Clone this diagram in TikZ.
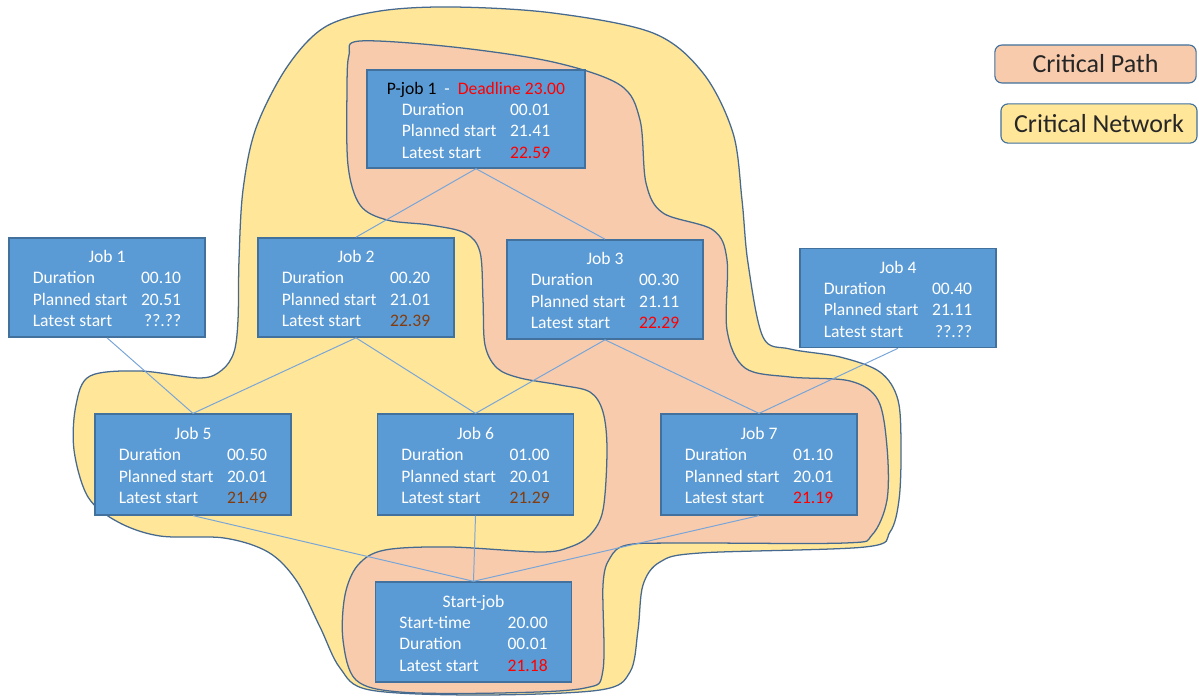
\documentclass[tikz,border=0pt]{standalone}
\usepackage{fontspec}
\setmainfont{Carlito}
\usepackage{xcolor}
\definecolor{JobBlue}{RGB}{91,155,213}
\definecolor{JobEdge}{RGB}{65,113,156}
\definecolor{PathPeach}{RGB}{248,203,173}
\definecolor{NetYellow}{RGB}{255,230,153}
\definecolor{BlobEdge}{RGB}{70,105,143}
\definecolor{LinkBlue}{RGB}{120,165,215}
\definecolor{LateRed}{RGB}{255,0,0}
\definecolor{LateBrown}{RGB}{132,60,12}
\usepackage{tikz}
\usetikzlibrary{positioning}

\begin{document}
\begin{tikzpicture}[
		x=0.025cm, y=-0.025cm,
		% job box
		jobBox/.style={
			rectangle,
			minimum width=4.9cm,
			minimum height=2.48cm,
			fill=JobBlue,
			draw=JobEdge,
			line width=1pt,
			text=white,
			inner sep=0pt,
			font=\fontsize{12.5}{15.2}\selectfont
		},
		% legend box
		legendBox/.style={
			rectangle,
			rounded corners=5pt,
			draw=JobEdge,
			line width=0.8pt,
			text=black!85,
			inner sep=0pt,
			font=\fontsize{18.5}{22}\selectfont
		},
		% blob outline
		blob/.style={draw=BlobEdge, line width=0.9pt},
		% connector
		link/.style={draw=LinkBlue, line width=0.7pt}
		]
		
		\useasboundingbox (0,0) rectangle (1199,696);
		
		% critical network
		\path[blob, fill=NetYellow] plot[smooth cycle, tension=0.55] coordinates {
			(453,7) (553,13) (653,33) (703,73) (733,133) (742,200) (748,263)
			(763,337) (790,349) (840,357) (880,372) (898,400) (901,450) (899,500)
			(890,532) (865,547) (700,553) (660,562) (643,585) (638,630) (630,672)
			(600,690) (480,695) (370,690) (340,668) (320,627) (296,580) (268,552)
			(224,538) (160,536) (118,522) (88,497) (74,450) (76,405) (90,376)
			(140,371) (200,378) (222,370) (234,352) (238,320) (239,260) (243,190)
			(256,128) (287,67) (325,27) (380,11)};
		
		% critical path
		\path[blob, fill=PathPeach] plot[smooth cycle, tension=0.55] coordinates {
			(360,41) (453,47) (553,62) (620,85) (640,120) (646,183) (663,213)
			(713,230) (727,260) (727,330) (745,368) (790,377) (850,381) (878,400)
			(887,447) (887,500) (872,535) (845,543) (680,543) (627,545) (610,558)
			(603,585) (603,670) (585,688) (500,693) (400,692) (356,680) (343,640)
			(345,595) (358,565) (385,550) (450,547) (540,552) (570,547) (590,535)
			(603,510) (607,450) (603,412) (590,392) (560,385) (520,378) (497,368)
			(485,345) (483,300) (480,252) (465,233) (430,225) (387,220) (360,205)
			(348,165) (347,90) (349,55)};
		
		% P-job 1
		\node[jobBox, minimum width=5.45cm, minimum height=2.45cm] (pjob) at (476,119) {
			\raisebox{-2pt}[\height][\depth]{\begin{tabular}{@{}p{77pt}@{}r@{}}
				\multicolumn{2}{c}{\makebox[0pt]{\color{black}P-job 1\ \ \color{white}-\ \ \color{LateRed}Deadline 23.00}}\\
				Duration & 00.01\\
				Planned start & 21.41\\
				Latest start & \color{LateRed}22.59
			\end{tabular}}
		};
		
		% Job 1
		\node[jobBox] (job1) at (107,287.5) {
			\raisebox{-2pt}[\height][\depth]{\begin{tabular}{@{}p{77pt}@{}r@{}}
				\multicolumn{2}{c}{Job 1}\\
				Duration & 00.10\\
				Planned start & 20.51\\
				Latest start & ??.??
			\end{tabular}}
		};
		
		% Job 2
		\node[jobBox] (job2) at (356,287.5) {
			\raisebox{-2pt}[\height][\depth]{\begin{tabular}{@{}p{77pt}@{}r@{}}
				\multicolumn{2}{c}{Job 2}\\
				Duration & 00.20\\
				Planned start & 21.01\\
				Latest start & \color{LateBrown}22.39
			\end{tabular}}
		};
		
		% Job 3
		\node[jobBox] (job3) at (605,289.5) {
			\raisebox{-2pt}[\height][\depth]{\begin{tabular}{@{}p{77pt}@{}r@{}}
				\multicolumn{2}{c}{Job 3}\\
				Duration & 00.30\\
				Planned start & 21.11\\
				Latest start & \color{LateRed}22.29
			\end{tabular}}
		};
		
		% Job 4
		\node[jobBox] (job4) at (898,298) {
			\raisebox{-2pt}[\height][\depth]{\begin{tabular}{@{}p{77pt}@{}r@{}}
				\multicolumn{2}{c}{Job 4}\\
				Duration & 00.40\\
				Planned start & 21.11\\
				Latest start & ??.??
			\end{tabular}}
		};
		
		% Job 5
		\node[jobBox, minimum height=2.52cm] (job5) at (193,464.5) {
			\raisebox{-2pt}[\height][\depth]{\begin{tabular}{@{}p{77pt}@{}r@{}}
				\multicolumn{2}{c}{Job 5}\\
				Duration & 00.50\\
				Planned start & 20.01\\
				Latest start & \color{LateBrown}21.49
			\end{tabular}}
		};
		
		% Job 6
		\node[jobBox, minimum height=2.52cm] (job6) at (475.5,464.5) {
			\raisebox{-2pt}[\height][\depth]{\begin{tabular}{@{}p{77pt}@{}r@{}}
				\multicolumn{2}{c}{Job 6}\\
				Duration & 01.00\\
				Planned start & 20.01\\
				Latest start & \color{LateBrown}21.29
			\end{tabular}}
		};
		
		% Job 7
		\node[jobBox, minimum height=2.52cm] (job7) at (759,464.5) {
			\raisebox{-2pt}[\height][\depth]{\begin{tabular}{@{}p{77pt}@{}r@{}}
				\multicolumn{2}{c}{Job 7}\\
				Duration & 01.10\\
				Planned start & 20.01\\
				Latest start & \color{LateRed}21.19
			\end{tabular}}
		};
		
		% Start-job
		\node[jobBox, minimum height=2.5cm] (start) at (473.5,632) {
			\raisebox{-2pt}[\height][\depth]{\begin{tabular}{@{}p{77pt}@{}r@{}}
				\multicolumn{2}{c}{Start-job}\\
				Start-time & 20.00\\
				Duration & 00.01\\
				Latest start & \color{LateRed}21.18
			\end{tabular}}
		};
		
		% connectors
		\draw[link] (pjob.south) -- (job2.north);
		\draw[link] (pjob.south) -- (job3.north);
		\draw[link] (job1.south) -- (job5.north);
		\draw[link] (job2.south) -- (job5.north);
		\draw[link] (job2.south) -- (job6.north);
		\draw[link] (job3.south) -- (job6.north);
		\draw[link] (job3.south) -- (job7.north);
		\draw[link] (job4.south) -- (job7.north);
		\draw[link] (job5.south) -- (start.north);
		\draw[link] (job6.south) -- (start.north);
		\draw[link] (job7.south) -- (start.north);
		
		% legend
		\node[legendBox, fill=PathPeach, minimum width=5.03cm, minimum height=0.95cm] (legPath) at (1095.5,64) {Critical Path};
		\node[legendBox, fill=NetYellow, minimum width=4.9cm, minimum height=0.98cm] (legNet) at (1099,123.5) {Critical Network};
		
	\end{tikzpicture}
\end{document}
